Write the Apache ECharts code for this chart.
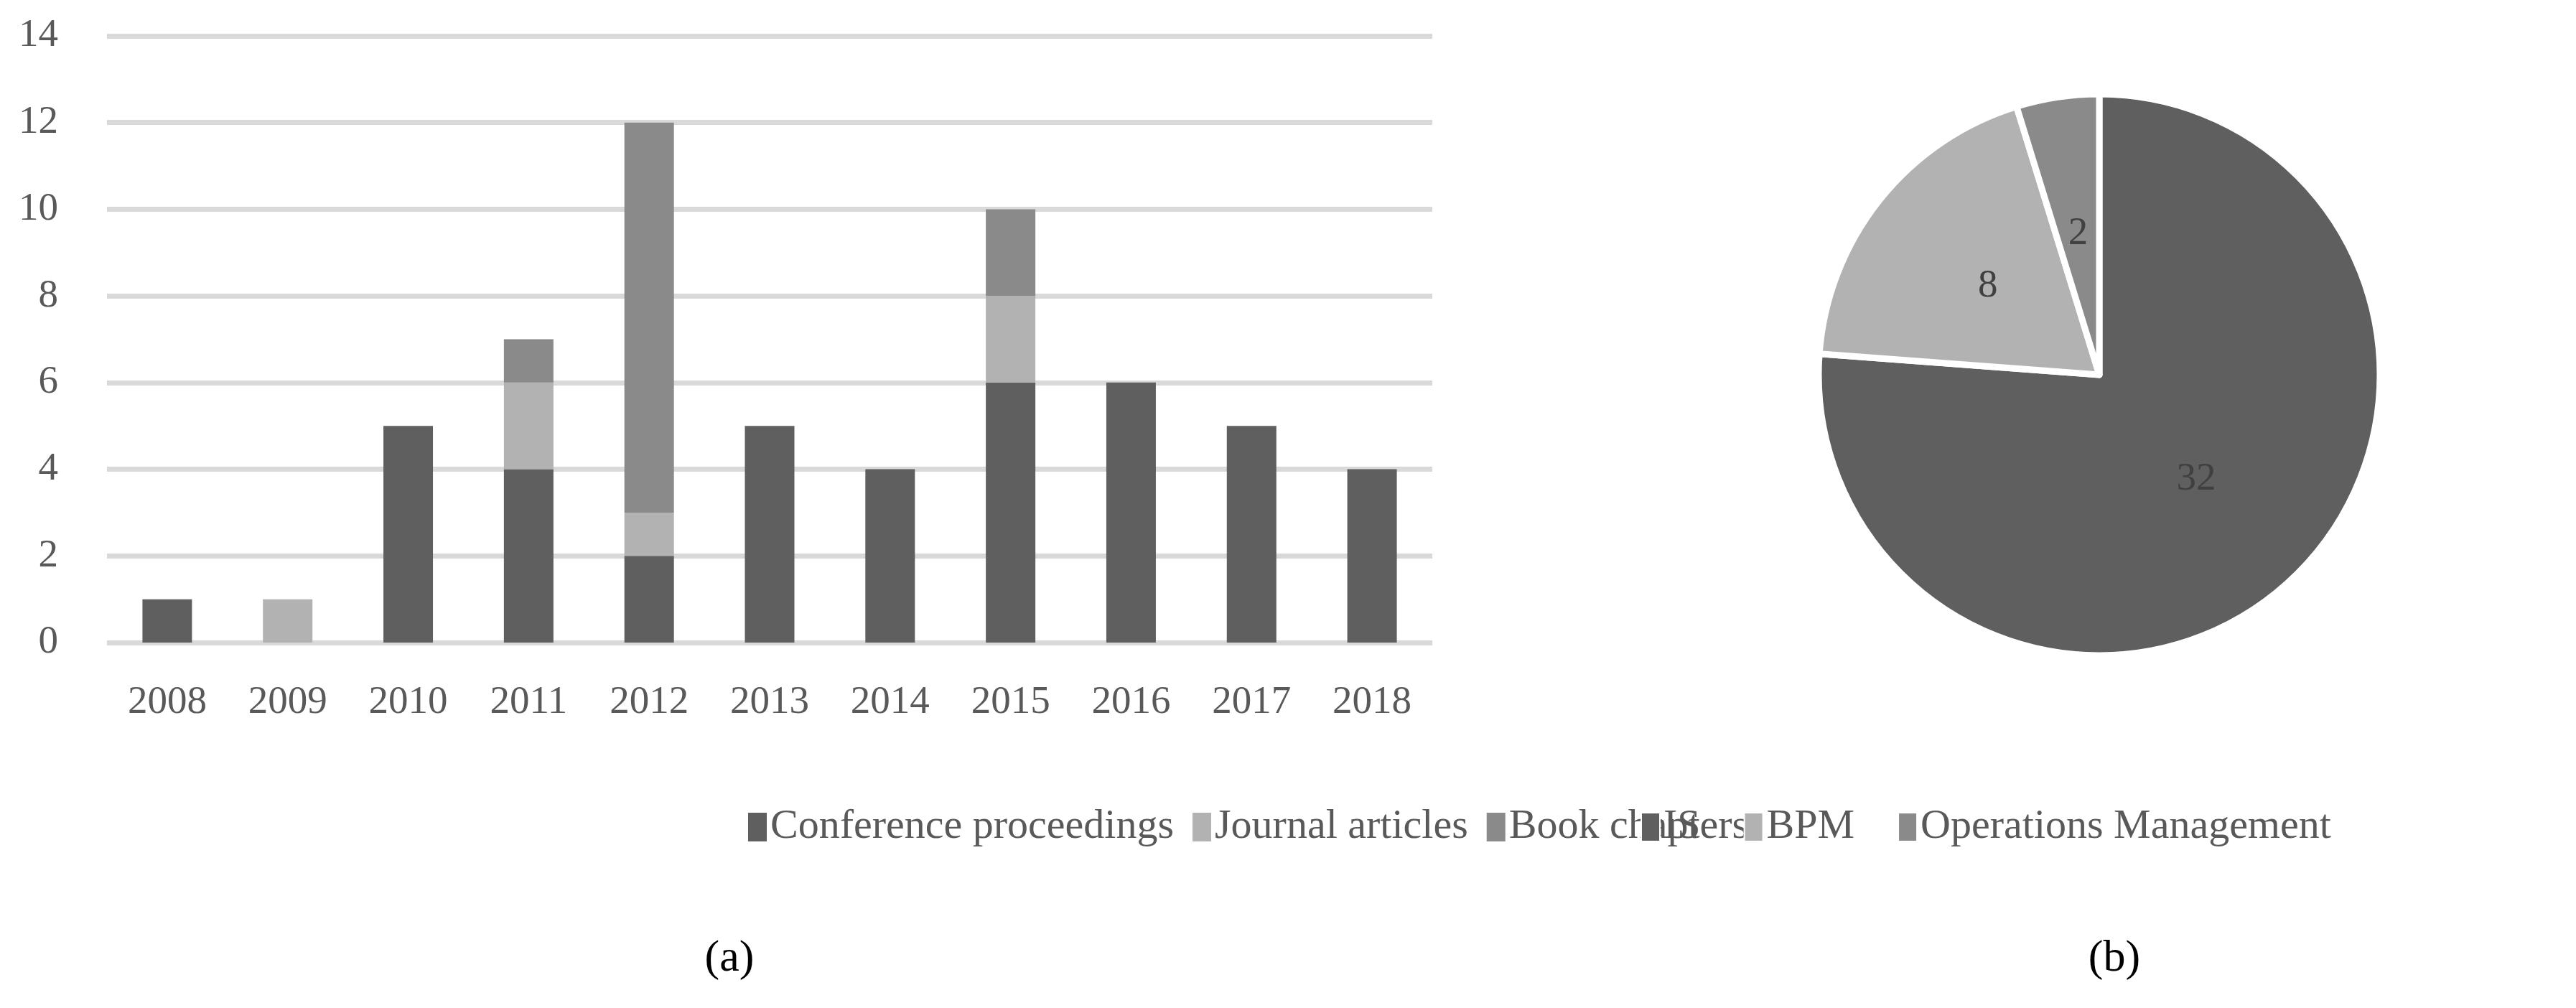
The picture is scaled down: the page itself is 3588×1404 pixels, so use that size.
<!DOCTYPE html>
<html><head><meta charset="utf-8">
<script src="https://cdn.jsdelivr.net/npm/echarts@6/dist/echarts.min.js"></script>
<style>html,body{margin:0;padding:0;background:#fff}#c{width:3588px;height:1404px}</style>
</head><body><div id="c"></div>
<script>
const years = ['2008','2009','2010','2011','2012','2013','2014','2015','2016','2017','2018'];
const conference = [1,0,5,4,2,5,4,6,6,5,4];
const journal = [0,1,0,2,1,0,0,2,0,0,0];
const book = [0,0,0,1,9,0,0,2,0,0,0];
const yTicks = [0,2,4,6,8,10,12,14];
const pieNames = ['IS','BPM','Operations Management'];
const pieValues = [32,8,2];
const colors = ['#5f5f5f','#b2b2b2','#8a8a8a'];
const font = '"Liberation Serif", "DejaVu Serif", serif';
const chart = echarts.init(document.getElementById('c'));
const barSeries = [['Conference proceedings',conference],['Journal articles',journal],['Book chapters',book]].map((s,i)=>({
  name:s[0], type:'bar', stack:'a', data:s[1].map(v=>v===0?null:v), barWidth:69,
  itemStyle:{color:colors[i]}, xAxisIndex:0, yAxisIndex:0
}));
chart.setOption({
  animation:false,
  textStyle:{fontFamily:font},
  title:[
    {text:'(a)',left:1011,top:1300,textAlign:'center',textStyle:{fontFamily:font,fontSize:62,fontWeight:'normal',color:'#000',rich:{b:{fontWeight:'bold',fontSize:62,fontFamily:font}}}},
    {text:'(b)',left:2940,top:1300,textAlign:'center',textStyle:{fontFamily:font,fontSize:62,fontWeight:'normal',color:'#000'}}
  ],
  legend:[
    {data:['Conference proceedings','Journal articles','Book chapters'],left:1037,top:1118,textAlign:'center',
     itemWidth:26,itemHeight:40,itemGap:26,icon:'rect',textStyle:{fontFamily:font,fontSize:58,color:'#595959'}},
    {data:pieNames,left:2280,top:1118,itemWidth:26,itemHeight:40,itemGap:60,icon:'rect',
     textStyle:{fontFamily:font,fontSize:58,color:'#595959'}}
  ],
  grid:[{left:149,right:3588-1995,top:50,height:845}],
  xAxis:[{type:'category',data:years,gridIndex:0,axisLine:{show:false},axisTick:{show:false},
    axisLabel:{fontFamily:font,fontSize:55,color:'#595959',margin:56}}],
  yAxis:[{type:'value',min:0,max:14,interval:2,gridIndex:0,axisLine:{show:false},axisTick:{show:false},
    axisLabel:{fontFamily:font,fontSize:55,color:'#595959',margin:68,
      formatter:v=>yTicks.includes(v)?String(v):''},
    splitLine:{lineStyle:{color:'#d9d9d9',width:7}}}],
  series:[...barSeries,{
    type:'pie', center:[2924,522], radius:[0,391], startAngle:90, clockwise:true,
    data:pieNames.map((n,i)=>({name:n,value:pieValues[i],itemStyle:{color:colors[i]}})),
    itemStyle:{borderColor:'#fff',borderWidth:9},
    label:{show:true,position:'inside',formatter:'{c}',fontFamily:font,fontSize:55,color:'#404040'},
    labelLine:{show:false}
  }]
});
</script></body></html>
